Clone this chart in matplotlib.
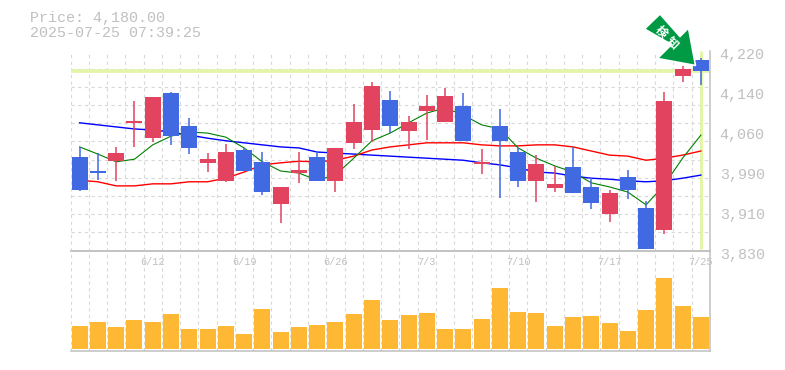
import matplotlib
matplotlib.use('Agg')
import matplotlib.pyplot as plt
import numpy as np
from matplotlib.patches import Polygon
from matplotlib.transforms import ScaledTranslation

# candles, oldest first
opens = [4012,3985,4004,4079,4049,4137,4073,4001,3965,4026,4003,3921,3981,4012,3965,4040,4065,4124,4063,4102,4080,4112,3999,4073,4022,3966,3952,3993,3954,3901,3973,3913,3870,4170,4202]
closes = [3948,3981,4020,4083,4129,4053,4030,4008,4022,3985,3944,3954,3987,3966,4030,4081,4151,4073,4081,4112,4131,4044,4003,4044,3966,3999,3960,3942,3923,3942,3948,3833,4122,4184,4180]
highs = [4032,4020,4032,4122,4129,4139,4088,4020,4037,4030,4022,3954,4022,4024,4030,4116,4158,4141,4092,4133,4147,4137,4028,4106,4030,4016,3995,4032,3971,3948,3987,3926,4139,4190,4205]
lows = [3946,3967,3965,4032,4041,4036,4018,3983,3964,3985,3938,3884,3962,3966,3944,4028,4041,4059,4028,4045,4080,4044,3979,3932,3954,3925,3944,3942,3911,3886,3930,3833,3862,4159,4153]

ma_green = [4032,4018,4003,4008,4036,4053,4061,4059,4051,4030,4003,3985,3981,3967,3977,4010,4044,4059,4079,4098,4108,4094,4075,4067,4030,4010,3995,3983,3962,3954,3944,3919,3958,4010,4055]
ma_red = [3967,3964,3956,3956,3960,3960,3964,3964,3971,3983,3997,4001,4004,4003,4006,4014,4026,4032,4036,4040,4040,4040,4036,4034,4034,4036,4036,4032,4024,4016,4014,4006,4010,4016,4024]
ma_blue = [4079,4075,4071,4067,4065,4061,4055,4049,4044,4040,4036,4032,4030,4022,4020,4018,4016,4014,4012,4010,4008,4006,4001,3997,3991,3983,3981,3975,3971,3969,3966,3964,3966,3971,3977]

volume = [23,27,22,29,27,35,20,20,23,15,40,17,22,24,27,35,49,29,34,36,20,20,30,61,37,36,23,32,33,26,18,39,71,43,32]

date_pos = [4,9,14,19,24,29,34]
date_labels = ['6/12','6/19','6/26','7/3','7/10','7/17','7/25']
price_labels = ['3,830','3,910','3,990','4,060','4,140','4,220']
last_price = 4180

W, H = 785, 370
RED = '#E2435F'
BLUE = '#4169E1'
GRID = '#D8D8D8'
EDGE = '#C0C0C0'
HILITE = '#E2F5A8'
MONO = 'Liberation Mono'


def frac(x, y):
    return x / W, 1 - y / H


fig = plt.figure(figsize=(7.85, 3.7), dpi=100)
ax = fig.add_axes([70.5 / W, 1 - 250.5 / H, 639.5 / W, 200 / H], zorder=2)
vol = fig.add_axes([70.5 / W, 1 - 350.5 / H, 639.5 / W, 100 / H], zorder=1)

x = np.arange(len(opens))
ymin, ymax = 3830, 4220

# grid
for a in (ax, vol):
    a.set_xlim(-0.5, 34.5)
    a.set_xticks(np.arange(-0.5, 35), minor=True)
    a.grid(which='minor', axis='x', color=GRID, lw=0.8, linestyle=(0, (3, 3)))
    a.tick_params(which='both', length=0)
    a.set_axisbelow(True)
    a.patch.set_alpha(0)
    for s in a.spines.values():
        s.set_color(EDGE)
        s.set_linewidth(1.1)
    a.spines['left'].set_visible(False)

ax.set_ylim(ymin, ymax)
ax.set_yticks(np.linspace(ymin, ymax, 12), minor=True)
ax.grid(which='minor', axis='y', color=GRID, lw=0.8, linestyle=(0, (3, 3)))
ax.spines['top'].set_visible(False)
ax.yaxis.tick_right()
ax.set_yticks(np.linspace(ymin, ymax, 6))
ax.set_yticklabels(price_labels, fontsize=10.8, family=MONO, color=EDGE)
ax.tick_params(axis='y', which='major', pad=7)
for lab in ax.get_yticklabels():
    lab.set_transform(lab.get_transform() + ScaledTranslation(0, -2.5 / 100, fig.dpi_scale_trans))
ax.set_xticks(date_pos)
ax.set_xticklabels(date_labels, fontsize=7.4, family=MONO, color=EDGE)
ax.tick_params(axis='x', which='major', pad=5)

# last price
ax.axhline(last_price, color=HILITE, lw=2.6, zorder=1)
ax.plot([x[-1], x[-1]], [3833, ymax], color=HILITE, lw=2.2, zorder=1, solid_capstyle='butt')

# moving averages
ax.plot(x, ma_blue, color='#0000FF', lw=1.0, zorder=2)
ax.plot(x, ma_red, color='#FF0000', lw=1.0, zorder=2)
ax.plot(x, ma_green, color='#007F00', lw=0.8, zorder=2)

# candles
opens_a, closes_a = np.array(opens), np.array(closes)
colors = [RED if c > o else BLUE for o, c in zip(opens_a, closes_a)]
ax.vlines(x, lows, highs, colors=colors, lw=1.1, zorder=3)
ax.bar(x, closes_a - opens_a, bottom=opens_a, width=0.875, color=colors, zorder=3, linewidth=0)

# volume
vol.bar(x, volume, width=0.875, color='#FFB833', zorder=3, linewidth=0)
vol.set_ylim(-2, 98)
vol.set_yticks([])
vol.set_xticks([])

# arrow badge
arrow = [(644.5, 29), (660, 14), (680, 36.5), (688.5, 28), (695.5, 65.5), (657.5, 58.5), (671.5, 44.5)]
fig.add_artist(Polygon([frac(*p) for p in arrow], closed=True, facecolor='#009A44',
                       edgecolor='white', lw=1.2, transform=fig.transFigure, zorder=5))
for ch, cx, cy in [('検', 661.5, 31.5), ('知', 672.5, 42.5)]:
    fig.text(*frac(cx, cy), ch, color='white', fontsize=8.5, fontweight='bold', rotation=-45,
             ha='center', va='center', rotation_mode='anchor',
             family=['Noto Sans CJK JP', 'DejaVu Sans'], zorder=6)

fig.text(*frac(30, 18), 'Price: 4,180.00', fontsize=10.8, family=MONO, color=EDGE, va='center')
fig.text(*frac(30, 33), '2025-07-25 07:39:25', fontsize=10.8, family=MONO, color=EDGE, va='center')

fig.savefig('out.png', dpi=100)
